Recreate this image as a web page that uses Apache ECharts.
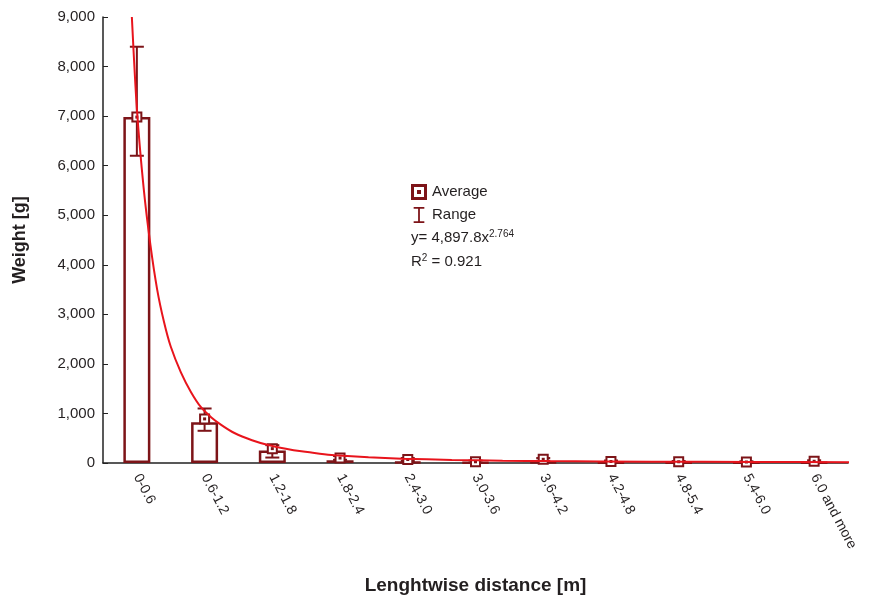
<!DOCTYPE html>
<html>
<head>
<meta charset="utf-8">
<script src="https://cdn.jsdelivr.net/npm/echarts@6/dist/echarts.min.js"></script>
<style>
  html, body { margin: 0; padding: 0; background: #fff; }
  #chart { width: 870px; height: 603px; }
</style>
</head>
<body>
<div id="chart"></div>
<script>
// categories on the x axis
var categories = ["0-0.6", "0.6-1.2", "1.2-1.8", "1.8-2.4", "2.4-3.0", "3.0-3.6",
  "3.6-4.2", "4.2-4.8", "4.8-5.4", "5.4-6.0", "6.0 and more"];
// bar heights, average markers and ranges (g)
var barValues = [6980, 820, 250, 55, 25, 12, 18, 10, 8, 6, 10];
var avgValues = [6980, 890, 290, 100, 70, 25, 75, 30, 25, 20, 35];
var rangeLow = [6200, 650, 110, 65, 40, 0, 45, 10, 5, 5, 10];
var rangeHigh = [8400, 1100, 360, 140, 100, 50, 100, 50, 40, 35, 55];
// trend curve (x in category units)
var trendX = [-0.074, 0, 0.1, 0.2, 0.3, 0.4, 0.5, 0.65, 0.8, 0.95, 1.1, 1.25, 1.44, 1.7, 1.94, 2.2, 2.43, 2.7, 2.92, 3.42, 3.91, 4.65, 5.4, 6.1, 7.6, 9.1, 10.55];
var trendY = [9000, 7150, 5550, 4400, 3500, 2850, 2350, 1830, 1430, 1120, 920, 765, 605, 460, 363, 288, 235, 188, 158, 115, 88, 62, 47, 38, 27, 20, 16];

var dark = "#7d1418";
var red = "#e8141c";
var txt = "#231f20";
var font = "Liberation Sans";

var chart = echarts.init(document.getElementById("chart"));

var rangeData = [];
var avgData = [];
var trendData = [];
for (var i = 0; i < categories.length; i++) {
  rangeData.push([i, rangeLow[i], rangeHigh[i]]);
  avgData.push([i, avgValues[i]]);
}
for (var j = 0; j < trendX.length; j++) {
  trendData.push([trendX[j], trendY[j]]);
}

var option = {
  backgroundColor: "#fff",
  animation: false,
  textStyle: { fontFamily: font },
  grid: { left: 103, right: 22, top: 17, bottom: 140 },
  legend: {
    orient: "vertical",
    left: 411,
    top: 184,
    padding: 0,
    itemWidth: 16,
    itemHeight: 16,
    itemGap: 7,
    selectedMode: false,
    textStyle: { fontSize: 15, color: txt, fontFamily: font },
    data: [
      { name: "Average", icon: "path://M0,0H16V16H0Z M3,3V13H13V3Z M6,6H10V10H6Z", itemStyle: { color: dark } },
      { name: "Range", icon: "path://M0,0H12V2H7V16H12V18H0V16H5V2H0Z", itemStyle: { color: dark } }
    ]
  },
  graphic: [
    {
      type: "text", left: 411, top: 229,
      style: {
        text: "y= 4,897.8x{sup|2.764}",
        fontSize: 15, fill: txt, fontFamily: font,
        rich: { sup: { fontSize: 10, fill: txt, fontFamily: font, padding: [0, 0, 8, 0] } }
      }
    },
    {
      type: "text", left: 411, top: 253,
      style: {
        text: "R{sup|2} = 0.921",
        fontSize: 15, fill: txt, fontFamily: font,
        rich: { sup: { fontSize: 10, fill: txt, fontFamily: font, padding: [0, 0, 8, 0] } }
      }
    }
  ],
  xAxis: [
    {
      type: "category",
      data: categories,
      name: "Lenghtwise distance [m]",
      nameLocation: "middle",
      nameGap: 113,
      nameTextStyle: { fontSize: 19, fontWeight: "bold", color: txt, fontFamily: font },
      axisLine: { onZero: false, lineStyle: { color: "#222", width: 1.5 } },
      axisTick: { inside: true, length: 4, alignWithLabel: true, lineStyle: { color: "#222" } },
      axisLabel: { rotate: -62, fontSize: 14, color: txt, margin: 12, fontFamily: font, interval: 0 }
    },
    {
      type: "value",
      min: -0.5,
      max: 10.5,
      show: false
    }
  ],
  yAxis: {
    type: "value",
    min: 0,
    max: 9000,
    interval: 1000,
    name: "Weight [g]",
    nameLocation: "middle",
    nameGap: 74,
    nameTextStyle: { fontSize: 18, fontWeight: "bold", color: txt, fontFamily: font },
    splitLine: { show: false },
    axisLine: { show: true, onZero: false, lineStyle: { color: "#222", width: 1.5 } },
    axisTick: { show: true, inside: true, length: 5, lineStyle: { color: "#222" } },
    axisLabel: {
      fontSize: 15, color: txt, margin: 8, fontFamily: font,
      formatter: function (v) { return v.toLocaleString("en-US"); }
    }
  },
  series: [
    {
      name: "bars",
      type: "bar",
      data: barValues,
      barWidth: 27,
      itemStyle: { color: "#fff", borderColor: dark, borderWidth: 2.5 },
      z: 2
    },
    {
      name: "Range",
      type: "custom",
      data: rangeData,
      itemStyle: { color: dark },
      z: 4,
      renderItem: function (params, api) {
        var lo = api.coord([api.value(0), api.value(1)]);
        var hi = api.coord([api.value(0), api.value(2)]);
        var w = 7;
        var st = { stroke: dark, lineWidth: 2 };
        return {
          type: "group",
          children: [
            { type: "line", shape: { x1: lo[0], y1: lo[1], x2: hi[0], y2: hi[1] }, style: st },
            { type: "line", shape: { x1: lo[0] - w, y1: lo[1], x2: lo[0] + w, y2: lo[1] }, style: st },
            { type: "line", shape: { x1: hi[0] - w, y1: hi[1], x2: hi[0] + w, y2: hi[1] }, style: st }
          ]
        };
      }
    },
    {
      name: "Average",
      type: "custom",
      data: avgData,
      itemStyle: { color: dark },
      z: 5,
      renderItem: function (params, api) {
        var p = api.coord([api.value(0), api.value(1)]);
        return {
          type: "group",
          children: [
            { type: "rect", shape: { x: p[0] - 4.5, y: p[1] - 4.5, width: 9, height: 9 },
              style: { fill: "#fff", stroke: dark, lineWidth: 2 } },
            { type: "rect", shape: { x: p[0] - 1.5, y: p[1] - 1.5, width: 3, height: 3 },
              style: { fill: dark } }
          ]
        };
      }
    },
    {
      name: "trend",
      type: "line",
      xAxisIndex: 1,
      data: trendData,
      smooth: 0.25,
      showSymbol: false,
      symbol: "none",
      lineStyle: { color: red, width: 2 },
      z: 6
    }
  ]
};

chart.setOption(option);
</script>
</body>
</html>
